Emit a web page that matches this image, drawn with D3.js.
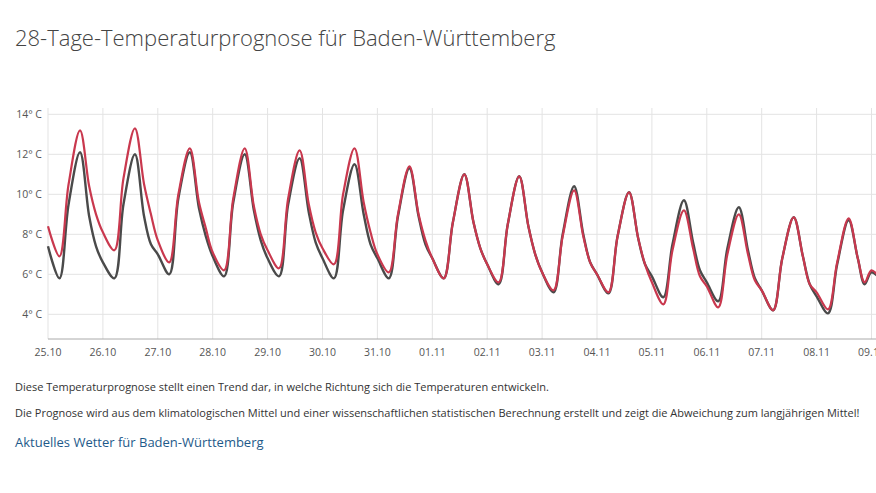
<!DOCTYPE html>
<html><head><meta charset="utf-8">
<script src="https://cdn.jsdelivr.net/npm/d3@7"></script>
<style>body{margin:0;background:#fff;font-family:"Open Sans",sans-serif;}</style>
</head><body><svg id="c" width="876" height="493"></svg>
<script>
const dayLabels=["25.10","26.10","27.10","28.10","29.10","30.10","31.10","01.11","02.11","03.11","04.11","05.11","06.11","07.11","08.11","09.11"];
const hours=[0,5,9,14,18,21];
const yTicks=[4,6,8,10,12,14];
// per day values at hours above
const redSeries=[
 8.4,6.9,10.5,13.2,10.4,9.0,
 8.1,7.2,10.8,13.3,10.5,9.0,
 7.7,6.6,10.0,12.3,9.6,8.3,
 7.1,6.2,9.8,12.3,9.4,8.0,
 7.2,6.3,9.8,12.2,9.5,8.1,
 7.3,6.5,10.0,12.3,9.6,8.1,
 7.0,6.1,9.0,11.4,9.0,7.7,
 6.8,5.8,8.6,11.0,8.6,7.3,
 6.5,5.6,8.5,10.9,8.4,7.0,
 6.1,5.2,7.9,10.2,7.9,6.6,
 6.0,5.1,7.9,10.1,7.8,6.5,
 5.6,4.5,7.2,9.2,7.3,5.9,
 5.4,4.35,7.0,9.0,7.0,5.7,
 5.2,4.2,6.8,8.85,6.9,5.5,
 5.1,4.25,6.6,8.8,6.8,5.6,
 6.2,5.6];
const darkSeries=[
 7.4,5.8,9.5,12.1,8.9,7.4,
 6.6,5.8,9.5,12.0,8.9,7.5,
 7.0,6.0,9.8,12.1,9.3,7.9,
 6.9,5.9,9.6,12.0,9.2,7.7,
 6.8,5.9,9.5,11.8,9.1,7.6,
 6.8,5.8,9.2,11.5,9.0,7.5,
 6.8,5.8,8.9,11.3,8.9,7.5,
 6.8,5.8,8.6,11.0,8.6,7.3,
 6.5,5.5,8.5,10.9,8.4,7.0,
 6.1,5.1,8.0,10.4,8.0,6.6,
 6.0,5.05,7.9,10.1,7.8,6.5,
 5.9,4.85,7.5,9.7,7.6,6.2,
 5.6,4.65,7.3,9.35,7.2,5.8,
 5.2,4.2,6.8,8.85,6.9,5.5,
 4.9,4.05,6.5,8.7,6.8,5.5,
 6.1,5.6];
const svg=d3.select("#c");
svg.append("text").attr("x",15).attr("y",46).attr("font-size",22).attr("fill","#444").attr("font-weight",300).text("28-Tage-Temperaturprognose für Baden-Württemberg");
const x=d3.scaleLinear().domain([0,15]).range([48,871.5]);
const y=d3.scaleLinear().domain([4,14]).range([314.3,114.3]);
const g=svg.append("g");
g.selectAll(".hg").data(yTicks).join("line").attr("x1",48).attr("x2",876).attr("y1",d=>y(d)).attr("y2",d=>y(d)).attr("stroke","#e3e3e3");
g.selectAll(".vg").data(d3.range(16)).join("line").attr("x1",d=>x(d)).attr("x2",d=>x(d)).attr("y1",108).attr("y2",339).attr("stroke","#e3e3e3");
g.append("line").attr("x1",48).attr("x2",876).attr("y1",339).attr("y2",339).attr("stroke","#aaa");
g.selectAll(".yl").data(yTicks).join("text").attr("x",42).attr("y",d=>y(d)+4).attr("text-anchor","end").attr("font-size",10.5).attr("fill","#555").text(d=>d+"° C");
g.selectAll(".xl").data(dayLabels).join("text").attr("x",(d,i)=>x(i)).attr("y",356).attr("text-anchor","middle").attr("font-size",10.5).attr("fill","#555").text(d=>d);
function pts(arr){return arr.map((v,i)=>[Math.floor(i/6)+hours[i%6]/24,v]);}
const line=d3.line().x(d=>x(d[0])).y(d=>y(d[1])).curve(d3.curveCatmullRom.alpha(0.5));
svg.append("clipPath").attr("id","cp").append("rect").attr("x",44).attr("y",100).attr("width",832).attr("height",240);
const lg=svg.append("g").attr("clip-path","url(#cp)");
lg.append("path").attr("d",line(pts(darkSeries))).attr("fill","none").attr("stroke","#4a4a4a").attr("stroke-width",2.4);
lg.append("path").attr("d",line(pts(redSeries))).attr("fill","none").attr("stroke","#c9384e").attr("stroke-width",2.2);
svg.append("text").attr("x",15).attr("y",391).attr("font-size",11).attr("fill","#333").text("Diese Temperaturprognose stellt einen Trend dar, in welche Richtung sich die Temperaturen entwickeln.");
svg.append("text").attr("x",15).attr("y",417).attr("font-size",11).attr("fill","#333").text("Die Prognose wird aus dem klimatologischen Mittel und einer wissenschaftlichen statistischen Berechnung erstellt und zeigt die Abweichung zum langjährigen Mittel!");
svg.append("text").attr("x",15).attr("y",447).attr("font-size",13).attr("fill","#1e5a8a").text("Aktuelles Wetter für Baden-Württemberg");
</script></body></html>
